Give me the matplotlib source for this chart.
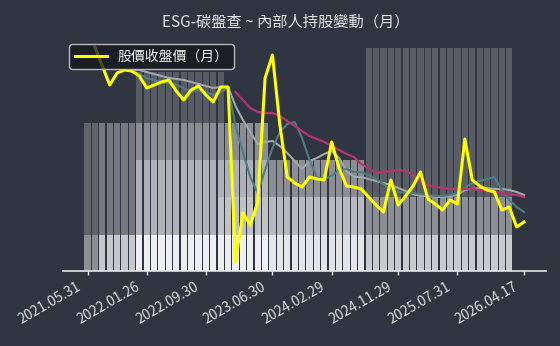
import numpy as np
import pandas as pd
import matplotlib
matplotlib.use('Agg')
import matplotlib.pyplot as plt
import matplotlib.transforms as mtransforms

plt.rcParams['font.family'] = ['Noto Sans CJK TC', 'DejaVu Sans']

nan = np.nan
months = [p.strftime('%Y.%m') for p in pd.period_range('2021-05', '2026-04', freq='M')]
tick_dates = ['2021.05.31', '2022.01.26', '2022.09.30', '2023.06.30',
              '2024.02.29', '2024.11.29', '2025.07.31', '2026.04.17']

# holding levels (overlapping bars, units)
ser_a = [9.7, 9.7, 9.7, 9.7, 9.7, 9.7, 9.7, 9.7, 9.7, 9.7,
         9.7, 9.7, 9.7, 9.7, 9.7, 9.7, 9.7, 9.7, 9.7, 9.7,
         9.7, 9.7, 9.7, 9.7, 9.7, 9.7, 9.7, 9.7, 9.7, 9.7,
         9.7, 9.7, 9.7, 9.7, 9.7, 9.7, 9.7, 9.7, 9.7, 9.7,
         9.7, 9.7, 9.7, 9.7, 9.7, 9.7, 9.7, 9.7, 9.7, 9.7,
         9.7, 9.7, 9.7, 9.7, 9.7, 9.7, 9.7, 9.7, 0, 0]
ser_b = [0, 0, 0, 0, 0, 0, 0, 0, 0, 0,
         0, 0, 0, 0, 0, 0, 0, 0, 20, 20,
         20, 20, 20, 20, 20, 20, 20, 20, 20, 20,
         20, 20, 20, 20, 20, 20, 20, 20, 20, 20,
         20, 20, 20, 20, 20, 20, 20, 20, 20, 20,
         20, 20, 20, 20, 20, 20, 20, 20, 0, 0]
ser_c = [0, 0, 0, 0, 0, 0, 0, 30, 30, 30,
         30, 30, 30, 30, 30, 30, 30, 30, 30, 30,
         30, 30, 30, 30, 30, 30, 30, 30, 30, 30,
         30, 30, 30, 30, 30, 30, 30, 30, 0, 0,
         0, 0, 0, 0, 0, 0, 0, 0, 0, 0,
         0, 0, 0, 0, 0, 0, 0, 0, 0, 0]
ser_d = [40, 40, 40, 40, 40, 40, 40, 40, 40, 40,
         40, 40, 40, 40, 40, 40, 40, 40, 40, 40,
         40, 40, 40, 40, 40, 0, 0, 0, 0, 0,
         0, 0, 0, 0, 0, 0, 0, 0, 0, 0,
         0, 0, 0, 0, 0, 0, 0, 0, 0, 0,
         0, 0, 0, 0, 0, 0, 0, 0, 0, 0]
ser_e = [0, 0, 0, 0, 0, 0, 0, 53.8, 53.8, 53.8,
         53.8, 53.8, 53.8, 53.8, 53.8, 53.8, 53.8, 53.8, 53.8, 0,
         0, 0, 0, 0, 0, 0, 0, 0, 0, 0,
         0, 0, 0, 0, 0, 0, 0, 0, 60.3, 60.3,
         60.3, 60.3, 60.3, 60.3, 60.3, 60.3, 60.3, 60.3, 60.3, 60.3,
         60.3, 60.3, 60.3, 60.3, 60.3, 60.3, 60.3, 60.3, 0, 0]

# prices
close = [nan, 32.4, 30.5, 28.6, 29.8, 30.1, 30.0, 29.5, 28.3, 28.6,
         28.9, 29.1, 28.0, 27.1, 28.1, 28.5, 27.6, 26.9, 28.4, 28.4,
         10.9, 15.8, 14.6, 16.8, 29.3, 31.6, 24.6, 19.4, 18.8, 18.4,
         19.4, 19.2, 19.1, 22.9, 20.3, 18.5, 18.4, 18.2, 17.4, 16.6,
         15.9, 19.1, 16.6, 17.5, 18.5, 19.9, 17.2, 16.7, 16.1, 17.1,
         16.7, 23.2, 19.1, 18.5, 18.1, 17.9, 16.1, 16.4, 14.4, 14.9]
ma_short = [nan, nan, nan, nan, nan, nan, 29.9, 29.7, 29.3, 29.1,
            28.9, 28.8, 28.6, 28.3, 27.9, 28.1, 27.9, 27.6, 27.9, 28.3,
            24.5, 21.9, 19.4, 17.8, 20.1, 22.3, 23.9, 24.7, 24.9, 23.3,
            21.1, 19.4, 19.2, 19.5, 20.1, 20.2, 19.9, 19.9, 19.6, 19.2,
            18.7, 18.1, 17.9, 17.8, 17.8, 17.7, 17.6, 17.5, 17.5, 17.6,
            17.8, 18.3, 18.8, 19.0, 19.2, 19.4, 18.1, 17.1, 16.4, 15.9]
ma_mid = [nan, nan, nan, nan, nan, nan, 30.1, 30.1, 29.9, 29.7,
          29.5, 29.3, 29.2, 29.1, 28.9, 28.7, 28.5, 28.3, 28.4, 28.4,
          26.5, 25.1, 23.9, 22.7, 22.9, 23.0, 22.5, 21.8, 21.0, 20.2,
          21.0, 21.3, 21.7, 22.0, 21.3, 20.0, 19.4, 19.4, 19.2, 19.0,
          18.8, 18.6, 18.3, 18.0, 17.7, 17.5, 17.5, 17.4, 17.4, 17.5,
          17.6, 18.1, 18.2, 18.3, 18.3, 18.2, 18.2, 18.1, 17.9, 17.6]
ma_long = [nan, nan, nan, nan, nan, nan, nan, nan, nan, nan,
           nan, nan, nan, nan, nan, nan, nan, nan, nan, nan,
           27.9, 27.1, 26.3, 25.9, 25.8, 25.8, 25.5, 25.0, 24.5, 24.0,
           23.5, 23.2, 22.9, 22.5, 22.1, 21.7, 21.4, 20.7, 20.3, 19.8,
           19.9, 20.0, 20.1, 20.0, 19.6, 18.9, 18.6, 18.4, 18.3, 18.2,
           18.2, 18.2, 18.2, 18.1, 18.0, 17.9, 17.8, 17.7, 17.6, 17.4]

# style: shade of each level per period (period = first month)
period_starts = ['2021.05', '2021.07', '2021.12', '2023.06', '2024.07']
shades = {
    'a': ['#8c9095', '#c5c8cb', '#eceef0', '#e3e5e7', '#c8cbce'],
    'b': ['#c0c3c6', '#c0c3c6', '#c0c3c6', '#b6b9bd', '#8c9095'],
    'c': ['#aeb1b5', '#aeb1b5', '#aeb1b5', '#8b8f94', '#8b8f94'],
    'd': ['#60656c', '#75797f', '#8a8e93', '#8a8e93', '#8a8e93'],
    'e': ['#575c64', '#575c64', '#575c64', '#575c64', '#595e66'],
}

BG = '#2f3541'
FG = '#e4e4e4'
fig = plt.figure(figsize=(5.6, 3.46), dpi=100, facecolor=BG)
ax = fig.add_axes([62.5 / 560, 75 / 346, 483 / 560, 231 / 346])
ax.set_facecolor(BG)

x = np.arange(len(months))
period_of = [sum(m >= p for p in period_starts) - 1 for m in months]
for key, vals in [('e', ser_e), ('d', ser_d), ('c', ser_c), ('b', ser_b), ('a', ser_a)]:
    cols = [shades[key][p] for p in period_of]
    ax.bar(x, vals, width=0.84, color=cols, linewidth=0)

ax.set_xlim(-3.38, 61.9)
ax.set_ylim(0, 62.4)
for s in ['top', 'left', 'right']:
    ax.spines[s].set_visible(False)
ax.spines['bottom'].set_color(FG)
ax.spines['bottom'].set_linewidth(1.2)
ax.set_yticks([])

tick_idx = [months.index(d[:7]) for d in tick_dates]
ax.set_xticks(tick_idx)
ax.set_xticklabels(tick_dates, rotation=30, ha='right')
ax.tick_params(axis='x', colors=FG, length=3, width=1, labelsize=10, labelcolor='#dcdcdc')
offset = mtransforms.ScaledTranslation(-3 / 72, 0, fig.dpi_scale_trans)
for lab in ax.get_xticklabels():
    lab.set_transform(lab.get_transform() + offset)

ax2 = ax.twinx()
ax2.set_ylim(10, 33.1)
for s in ax2.spines.values():
    s.set_visible(False)
ax2.set_yticks([])

ax2.plot(x, ma_mid, color='#a3a7ab', lw=1.5)
ax2.plot(x, ma_short, color='#4f7c85', lw=1.5)
ax2.plot(x, ma_long, color='#b8336f', lw=1.6)
ax2.plot(x, close, color='#ffff00', lw=2.2, label='股價收盤價（月）')

leg = ax2.legend(loc='upper left', bbox_to_anchor=(0.0135, 0.983), borderaxespad=0,
                 fontsize=10, handlelength=2.3, handletextpad=0.8, borderpad=0.4,
                 fancybox=True)
leg.set_zorder(10)
frame = leg.get_frame()
frame.set_alpha(None)
frame.set_facecolor((0.08, 0.09, 0.11, 0.75))
frame.set_edgecolor('#b5b5b5')
frame.set_linewidth(1.0)
for t in leg.get_texts():
    t.set_color('#f0f0f0')

fig.text(0.511, 1 - 22 / 346, 'ESG-碳盤查 ~ 內部人持股變動（月）', ha='center', va='center',
         color=FG, fontsize=11)

fig.savefig('out.png', dpi=100, facecolor=BG)
